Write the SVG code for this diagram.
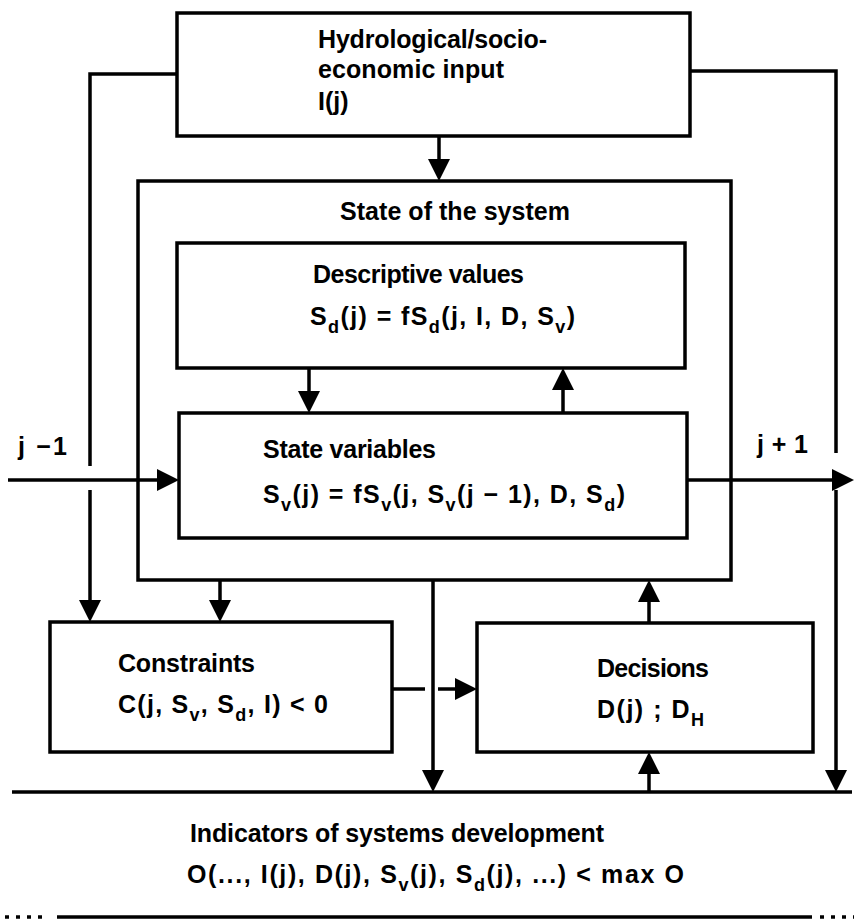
<svg xmlns="http://www.w3.org/2000/svg" width="854" height="920" viewBox="0 0 854 920">
<style>
.box{fill:none;stroke:#000;stroke-width:3.5}
.ln{fill:none;stroke:#000;stroke-width:3.5}
text{font-family:"Liberation Sans",Arial,sans-serif;font-weight:bold;font-size:25px;fill:#000}
.sub{font-size:18px}
</style>
<defs>
<marker id="ah" viewBox="0 0 22 22" refX="16" refY="11" markerWidth="22" markerHeight="22" markerUnits="userSpaceOnUse" orient="auto">
<path d="M0,0 L22,11 L0,22 z" fill="#000"/>
</marker>
</defs>
<rect width="854" height="920" fill="#fff"/>

<g id="input">
<rect class="box" x="177" y="13" width="513" height="123"/>
<text x="318" y="48" textLength="229">Hydrological/socio-</text>
<text x="318" y="78" textLength="186">economic input</text>
<text x="318" y="110">I(j)</text>
</g>

<g id="state-of-system">
<rect class="box" x="138" y="181" width="593" height="399"/>
<text x="340" y="220" textLength="230">State of the system</text>
</g>

<g id="descriptive-values">
<rect class="box" x="177" y="243" width="508" height="125"/>
<text x="313" y="283" textLength="211">Descriptive values</text>
<text x="310" y="325" textLength="265">S<tspan class="sub" dy="8">d</tspan><tspan dy="-8">(j) = fS</tspan><tspan class="sub" dy="8">d</tspan><tspan dy="-8">(j, I, D, S</tspan><tspan class="sub" dy="8">v</tspan><tspan dy="-8">)</tspan></text>
</g>

<g id="state-variables">
<rect class="box" x="179" y="413" width="508" height="125"/>
<text x="263" y="458" textLength="173">State variables</text>
<text x="263" y="503" textLength="362">S<tspan class="sub" dy="8">v</tspan><tspan dy="-8">(j) = fS</tspan><tspan class="sub" dy="8">v</tspan><tspan dy="-8">(j, S</tspan><tspan class="sub" dy="8">v</tspan><tspan dy="-8">(j − 1), D, S</tspan><tspan class="sub" dy="8">d</tspan><tspan dy="-8">)</tspan></text>
</g>

<g id="constraints">
<rect class="box" x="50" y="622" width="342" height="130"/>
<text x="118" y="672" textLength="137">Constraints</text>
<text x="118" y="713" textLength="210">C(j, S<tspan class="sub" dy="8">v</tspan><tspan dy="-8">, S</tspan><tspan class="sub" dy="8">d</tspan><tspan dy="-8">, I) &lt; 0</tspan></text>
</g>

<g id="decisions">
<rect class="box" x="477" y="623" width="336" height="129"/>
<text x="597" y="677" textLength="112">Decisions</text>
<text x="597" y="718" textLength="107">D(j) ; D<tspan class="sub" dy="8">H</tspan></text>
</g>

<g id="indicators">
<text x="190" y="842" textLength="414">Indicators of systems development</text>
<text x="187" y="883" textLength="497">O(..., I(j), D(j), S<tspan class="sub" dy="8">v</tspan><tspan dy="-8">(j), S</tspan><tspan class="sub" dy="8">d</tspan><tspan dy="-8">(j), ...) &lt; max O</tspan></text>
</g>

<g id="labels">
<text x="18" y="455" textLength="49">j −1</text>
<text x="757" y="453" textLength="51">j + 1</text>
</g>

<g id="connectors">
<path class="ln" d="M439,137 V175" marker-end="url(#ah)"/>
<path class="ln" d="M177,74 H90 V466"/>
<path class="ln" d="M90,490 V616" marker-end="url(#ah)"/>
<path class="ln" d="M690,71 H836 V453"/>
<path class="ln" d="M836,490 V786" marker-end="url(#ah)"/>
<path class="ln" d="M8,480 H173" marker-end="url(#ah)"/>
<path class="ln" d="M687,480 H848" marker-end="url(#ah)"/>
<path class="ln" d="M309,368 V407" marker-end="url(#ah)"/>
<path class="ln" d="M563,413 V374" marker-end="url(#ah)"/>
<path class="ln" d="M220,580 V616" marker-end="url(#ah)"/>
<path class="ln" d="M433,580 V786" marker-end="url(#ah)"/>
<path class="ln" d="M392,689 H425"/>
<path class="ln" d="M438,689 H471" marker-end="url(#ah)"/>
<path class="ln" d="M649,623 V586" marker-end="url(#ah)"/>
<path class="ln" d="M649,792 V758" marker-end="url(#ah)"/>
<path class="ln" d="M12,792 H852"/>
<path class="ln" d="M57,917 H812"/>
<path class="ln" d="M5,917 H46" stroke-dasharray="4 7"/>
<path class="ln" d="M820,917 H854" stroke-dasharray="4 7"/>
</g>
</svg>
